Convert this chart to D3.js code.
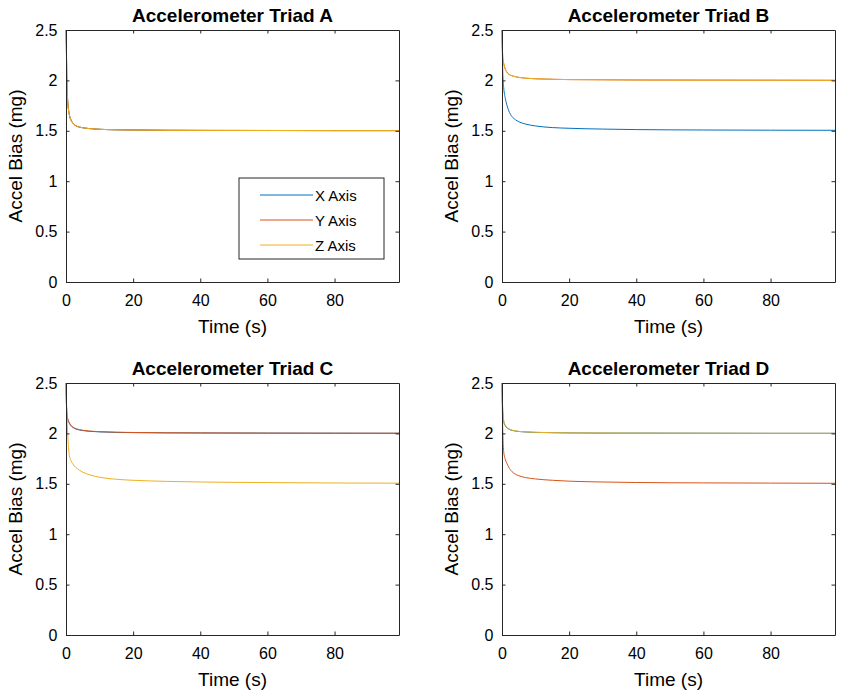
<!DOCTYPE html>
<html><head><meta charset="utf-8">
<script src="https://cdn.jsdelivr.net/npm/d3@7"></script>
<style>body{margin:0;background:#fff}svg{display:block}text{font-family:"Liberation Sans",Arial,sans-serif}</style>
</head><body><svg id="c" width="849" height="698"></svg>
<script>
const timeSec = [0, 0.1, 0.25, 0.5, 1, 1.5, 2, 3, 4, 5, 7, 10, 15, 20, 30, 40, 60, 80, 99.2];
// Triad A: all axes settle to 1.5
const triadA_X = [2.5, 2.35, 2.00, 1.80, 1.66, 1.605, 1.578, 1.548, 1.537, 1.530, 1.522, 1.515, 1.510, 1.508, 1.505, 1.504, 1.503, 1.502, 1.502];
const triadA_Y = [2.5, 2.36, 2.01, 1.80, 1.66, 1.606, 1.579, 1.549, 1.537, 1.530, 1.522, 1.515, 1.510, 1.508, 1.505, 1.504, 1.503, 1.502, 1.502];
const triadA_Z = [2.5, 2.35, 2.00, 1.80, 1.66, 1.605, 1.578, 1.548, 1.537, 1.530, 1.522, 1.515, 1.510, 1.508, 1.505, 1.504, 1.503, 1.502, 1.502];
// Triad B: X -> 1.5, Y,Z -> 2.0
const triadB_X = [2.5, 2.30, 2.05, 1.93, 1.82, 1.75, 1.70, 1.64, 1.61, 1.59, 1.567, 1.548, 1.532, 1.525, 1.517, 1.512, 1.508, 1.506, 1.505];
const triadB_Y = [2.5, 2.34, 2.22, 2.17, 2.11, 2.08, 2.062, 2.046, 2.036, 2.030, 2.022, 2.016, 2.011, 2.008, 2.006, 2.004, 2.003, 2.002, 2.001];
const triadB_Z = [2.5, 2.34, 2.22, 2.17, 2.11, 2.08, 2.062, 2.046, 2.036, 2.030, 2.022, 2.016, 2.011, 2.008, 2.006, 2.004, 2.003, 2.002, 2.001];
// Triad C: X,Y -> 2.0, Z -> 1.5
const triadC_X = [2.5, 2.33, 2.20, 2.14, 2.10, 2.075, 2.060, 2.043, 2.034, 2.028, 2.021, 2.015, 2.010, 2.008, 2.005, 2.004, 2.003, 2.002, 2.001];
const triadC_Y = [2.5, 2.34, 2.21, 2.15, 2.105, 2.08, 2.064, 2.047, 2.037, 2.031, 2.023, 2.017, 2.012, 2.009, 2.006, 2.005, 2.003, 2.002, 2.002];
const triadC_Z = [2.5, 2.35, 2.20, 2.00, 1.78, 1.73, 1.70, 1.66, 1.635, 1.615, 1.59, 1.565, 1.545, 1.535, 1.524, 1.518, 1.512, 1.508, 1.506];
// Triad D: X,Z -> 2.0, Y -> 1.5
const triadD_X = [2.5, 2.33, 2.20, 2.12, 2.075, 2.055, 2.043, 2.030, 2.023, 2.019, 2.014, 2.010, 2.007, 2.005, 2.003, 2.003, 2.002, 2.001, 2.001];
const triadD_Y = [2.5, 2.25, 2.00, 1.82, 1.74, 1.70, 1.665, 1.62, 1.595, 1.58, 1.562, 1.548, 1.535, 1.526, 1.518, 1.513, 1.509, 1.507, 1.505];
const triadD_Z = [2.5, 2.35, 2.22, 2.13, 2.08, 2.058, 2.046, 2.032, 2.025, 2.020, 2.015, 2.011, 2.007, 2.005, 2.004, 2.003, 2.002, 2.001, 2.001];

const xTicks = [0, 20, 40, 60, 80];
const yTicks = [0, 0.5, 1, 1.5, 2, 2.5];
const seriesNames = ["X Axis", "Y Axis", "Z Axis"];
const seriesColors = ["#0072BD", "#D95319", "#EDB120"];
const panelTitles = ["Accelerometer Triad A", "Accelerometer Triad B", "Accelerometer Triad C", "Accelerometer Triad D"];
const panelData = [[triadA_X, triadA_Y, triadA_Z], [triadB_X, triadB_Y, triadB_Z], [triadC_X, triadC_Y, triadC_Z], [triadD_X, triadD_Y, triadD_Z]];

const svg = d3.select("#c");
const W = 333, H = 252;
const origins = [[66, 30], [502, 30], [66, 383], [502, 383]];
const axisCol = "#262626";
const FONT = '"Liberation Sans",Arial,sans-serif';

panelData.forEach((series, i) => {
  const [ox, oy] = origins[i];
  const g = svg.append("g").attr("transform", `translate(${ox},${oy})`);
  const x = d3.scaleLinear().domain([0, 99.2]).range([0, W]);
  const y = d3.scaleLinear().domain([0, 2.5]).range([H, 0]);

  const clipId = "clip" + i;
  g.append("clipPath").attr("id", clipId).append("rect").attr("x", -1).attr("y", -1).attr("width", W + 1).attr("height", H + 1);
  const line = d3.line().x((d, k) => x(timeSec[k])).y(d => y(d)).curve(d3.curveMonotoneX);
  series.forEach((vals, s) => {
    g.append("path").datum(vals).attr("d", line).attr("fill", "none")
      .attr("stroke", seriesColors[s]).attr("stroke-width", 1).attr("clip-path", `url(#${clipId})`);
  });

  const styleAxis = sel => {
    sel.select(".domain").attr("stroke", axisCol);
    sel.selectAll(".tick line").attr("stroke", axisCol);
    sel.selectAll("text").attr("fill", "#000").attr("font-size", 16).attr("font-family", FONT);
  };
  g.append("g").attr("transform", `translate(0,${H})`)
    .call(d3.axisBottom(x).tickValues(xTicks).tickSizeInner(-3.5).tickSizeOuter(0).tickPadding(13))
    .call(styleAxis);
  g.append("g")
    .call(d3.axisLeft(y).tickValues(yTicks).tickSizeInner(-3.5).tickSizeOuter(0).tickPadding(8.5).tickFormat(d3.format("")))
    .call(styleAxis);
  g.append("g").call(d3.axisTop(x).tickValues(xTicks).tickSizeInner(-3.5).tickSizeOuter(0).tickFormat(""))
    .call(styleAxis);
  g.append("g").attr("transform", `translate(${W},0)`)
    .call(d3.axisRight(y).tickValues(yTicks).tickSizeInner(-3.5).tickSizeOuter(0).tickFormat(""))
    .call(styleAxis);

  g.append("text").attr("x", W / 2).attr("y", -8).attr("text-anchor", "middle")
    .attr("font-size", 19).attr("font-weight", "bold").text(panelTitles[i]);
  g.append("text").attr("x", W / 2).attr("y", H + 51).attr("text-anchor", "middle")
    .attr("font-size", 19).text("Time (s)");
  g.append("text").attr("transform", `translate(-44,${H / 2}) rotate(-90)`).attr("text-anchor", "middle")
    .attr("font-size", 19).text("Accel Bias (mg)");

  if (i === 0) {
    const lg = g.append("g").attr("transform", `translate(${239 - ox},${178 - oy})`);
    lg.append("rect").attr("width", 145).attr("height", 81).attr("fill", "#fff").attr("stroke", axisCol).attr("stroke-width", 1);
    seriesNames.forEach((n, s) => {
      const yy = 17 + s * 25;
      lg.append("line").attr("x1", 21).attr("x2", 74).attr("y1", yy).attr("y2", yy)
        .attr("stroke", seriesColors[s]).attr("stroke-width", 1);
      lg.append("text").attr("x", 76).attr("y", yy + 5.5).attr("font-size", 15).text(n);
    });
  }
});
</script></body></html>
